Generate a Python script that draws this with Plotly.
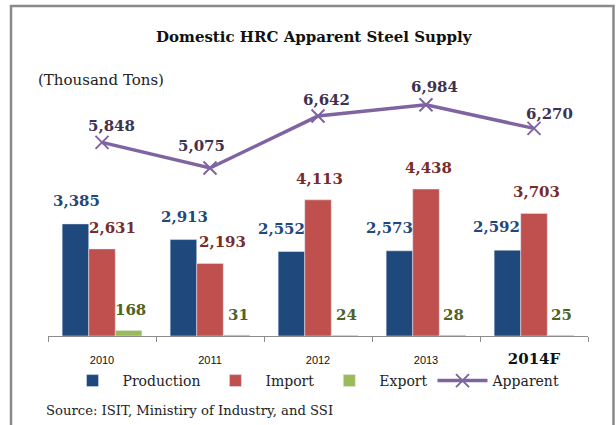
import plotly.graph_objects as go

# ---- data ----
years = ["2010", "2011", "2012", "2013", "2014F"]
production = [3385, 2913, 2552, 2573, 2592]
imports = [2631, 2193, 4113, 4438, 3703]
exports = [168, 31, 24, 28, 25]
apparent = [5848, 5075, 6642, 6984, 6270]
tick_labels = ["2010", "2011", "2012", "2013",
               "<b><span style='font-family:DejaVu Serif;font-size:15px;color:#111'>2014F</span></b>"]

# label nudges (pixels) – placement of the value labels
prod_dx = [1, 1, -10, -10, -11]
imp_dx = [10, 12, 1, 2, 2]
exp_dx = [2, 2, 2, 1, 1]
app_dx = [9, -9, 8, 8, 15]
app_dy = [16, 22, 16, 18, 14]

C_PROD = "#1F497D"
C_IMP = "#C0504D"
C_EXP = "#9BBB59"
C_APP = "#8064A2"

L_PROD = "#1F497D"
L_IMP = "#772C2A"
L_EXP = "#4F6228"
L_APP = "#3F3151"

SERIF = "DejaVu Serif"

W, H = 616, 425
ML, MR, MT, MB = 48, 28, 38, 89
PW = W - ML - MR
PH = H - MT - MB
YMAX = 9000
BARGAP = 0.262

fig = go.Figure()
fig.add_trace(go.Bar(name="Production", x=years, y=production, marker_color=C_PROD))
fig.add_trace(go.Bar(name="Import", x=years, y=imports, marker_color=C_IMP))
fig.add_trace(go.Bar(name="Export", x=years, y=exports, marker_color=C_EXP))
fig.add_trace(go.Scatter(name="Apparent", x=years, y=apparent, mode="lines+markers",
                         line=dict(color=C_APP, width=3.5),
                         marker=dict(symbol="x-thin", size=13,
                                     line=dict(color=C_APP, width=2), color=C_APP)))

# value labels (x given as category index)
cat_w = PW / len(years)
bar_w = cat_w * (1 - BARGAP) / 3
annotations = []
label_font = dict(family=SERIF, size=15)
for series, col, dxs, off, dy in [(production, L_PROD, prod_dx, -bar_w, 23),
                                  (imports, L_IMP, imp_dx, 0, 21),
                                  (exports, L_EXP, exp_dx, bar_w, 20)]:
    for i, v in enumerate(series):
        annotations.append(dict(x=i, y=v, xref="x", yref="y",
                                text=f"<b>{v:,}</b>", showarrow=False,
                                xshift=off + dxs[i], yshift=dy, yanchor="middle",
                                font=dict(label_font, color=col)))
for i, v in enumerate(apparent):
    annotations.append(dict(x=i, y=v, xref="x", yref="y",
                            text=f"<b>{v:,}</b>", showarrow=False,
                            xshift=app_dx[i], yshift=app_dy[i], yanchor="middle",
                            font=dict(label_font, color=L_APP)))


def px_x(px):
    return (px - ML) / PW


def px_y(py):
    return (H - MB - py) / PH


annotations.append(dict(x=px_x(314), y=px_y(37), xref="paper", yref="paper",
                        text="<b>Domestic HRC Apparent Steel Supply</b>", showarrow=False,
                        xanchor="center", yanchor="middle",
                        font=dict(family=SERIF, size=15, color="#111")))
annotations.append(dict(x=px_x(36), y=px_y(80), xref="paper", yref="paper",
                        text="(Thousand Tons)", showarrow=False,
                        xanchor="left", yanchor="middle",
                        font=dict(family=SERIF, size=15, color="#222")))
annotations.append(dict(x=px_x(44), y=px_y(410), xref="paper", yref="paper",
                        text="Source: ISIT, Ministiry of Industry, and SSI", showarrow=False,
                        xanchor="left", yanchor="middle",
                        font=dict(family=SERIF, size=13.2, color="#222")))

fig.update_layout(
    width=W, height=H,
    margin=dict(l=ML, r=MR, t=MT, b=MB, autoexpand=False),
    paper_bgcolor="white", plot_bgcolor="white",
    barmode="group", bargap=BARGAP, bargroupgap=0,
    showlegend=True,
    legend=dict(orientation="h", x=px_x(314), xanchor="center",
                y=px_y(381), yanchor="middle",
                font=dict(family=SERIF, size=14, color="#222"),
                bgcolor="rgba(0,0,0,0)", itemwidth=50, tracegroupgap=0),
    annotations=annotations,
    shapes=[dict(type="rect", xref="paper", yref="paper",
                 x0=px_x(11), x1=px_x(613.5), y0=px_y(440), y1=px_y(6),
                 line=dict(color="#8a8a8a", width=2.5), fillcolor="rgba(0,0,0,0)", layer="below")],
    xaxis=dict(type="category", range=[-0.5, len(years) - 0.5],
               tickmode="array", tickvals=years, ticktext=tick_labels,
               showline=True, linecolor="#8c8c8c", linewidth=1.3,
               ticks="outside", tickson="boundaries", ticklen=5, tickcolor="#8c8c8c",
               ticklabelstandoff=14,
               tickfont=dict(family="Liberation Sans", size=11, color="#111"),
               showgrid=False, fixedrange=True),
    yaxis=dict(range=[0, YMAX], visible=False, showgrid=False, zeroline=False, fixedrange=True),
)

fig.write_html("out.html", config={"displayModeBar": False},
               post_script="document.body.style.margin='0';document.body.style.overflow='hidden';")
